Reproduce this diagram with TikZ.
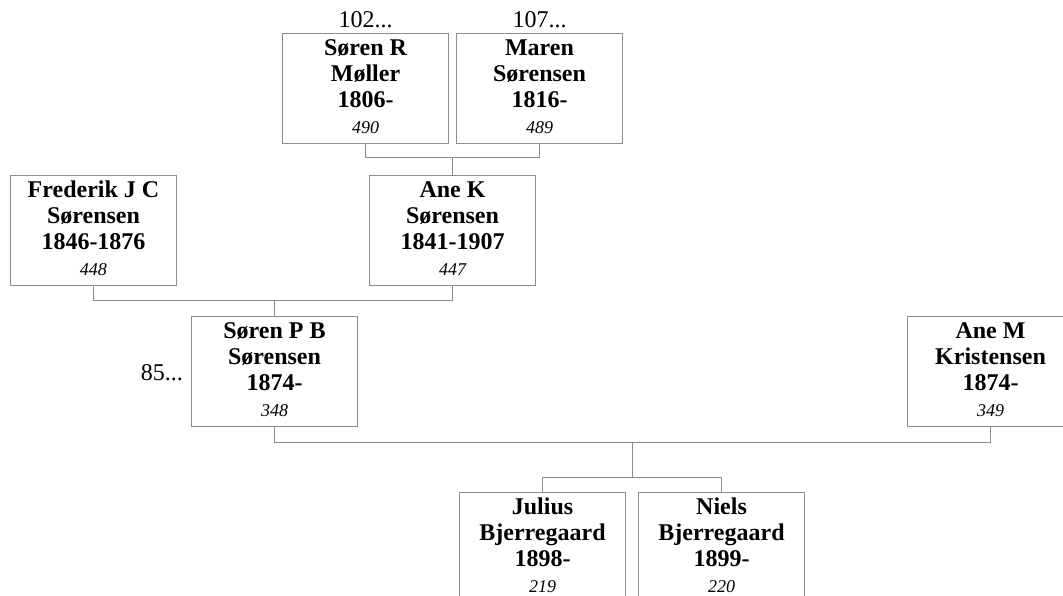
\documentclass[tikz,border=0pt]{standalone}
\usepackage{fontspec}
\setmainfont{Liberation Serif}
\usetikzlibrary{calc}
\definecolor{linegray}{RGB}{140,140,140}
\newcommand\pcard[4]{\vtop{\baselineskip=26pt\lineskiplimit=-100pt\lineskip=0pt
\halign{\hfil##\hfil\cr
\fontsize{24pt}{26pt}\selectfont\bfseries #1\cr
\fontsize{24pt}{26pt}\selectfont\bfseries #2\cr
\fontsize{24pt}{26pt}\selectfont\bfseries #3\cr
\fontsize{18pt}{26pt}\selectfont\itshape #4\cr}}}
\begin{document}
\begin{tikzpicture}[x=1pt,y=-1pt,
  person/.style={draw=linegray, line width=1pt, inner sep=0pt, outer sep=0pt,
    minimum width=166pt, text height=22pt, text depth=88pt, anchor=north west},
  conn/.style={draw=linegray, line width=1pt},
  more/.style={font=\fontsize{24pt}{26pt}\selectfont, inner sep=0pt}]
\useasboundingbox (0,0) rectangle (1063,596);
\clip (0,0) rectangle (1063,596);
\fill[white] (0,0) rectangle (1063,596);

\node[person] (A) at (282.5,33.5) {\pcard{Søren R}{Møller}{1806-}{490}};
\node[person] (B) at (456.5,33.5) {\pcard{Maren}{Sørensen}{1816-}{489}};
\node[person] (C) at (10.5,175.5) {\pcard{Frederik J C}{Sørensen}{1846-1876}{448}};
\node[person] (D) at (369.5,175.5) {\pcard{Ane K}{Sørensen}{1841-1907}{447}};
\node[person] (E) at (191.5,316.5) {\pcard{Søren P B}{Sørensen}{1874-}{348}};
\node[person] (F) at (907.5,316.5) {\pcard{Ane M}{Kristensen}{1874-}{349}};
\node[person] (G) at (459.5,492.5) {\pcard{Julius}{Bjerregaard}{1898-}{219}};
\node[person] (H) at (638.5,492.5) {\pcard{Niels}{Bjerregaard}{1899-}{220}};

\node[more, anchor=base] (n102) at (A.north |- 0,28) {102...};
\node[more, anchor=base] (n107) at (B.north |- 0,28) {107...};
\node[more, anchor=base east] (n85) at (183,380) {85...};

\draw[conn] (D.north) -- ++(0,-18) coordinate (ab);
\draw[conn] (A.south) |- (ab) -| (B.south);

\draw[conn] (E.north) -- ++(0,-16) coordinate (cd);
\draw[conn] (C.south) |- (cd) -| (D.south);

\coordinate (sib) at ($(G.north)!0.5!(H.north)+(0,-15)$);
\coordinate (ef) at ($(sib)+(0,-35)$);
\draw[conn] (E.south) |- (ef) -| (F.south);
\draw[conn] (ef) -- (sib);
\draw[conn] (G.north) |- (sib) -| (H.north);
\end{tikzpicture}
\end{document}
